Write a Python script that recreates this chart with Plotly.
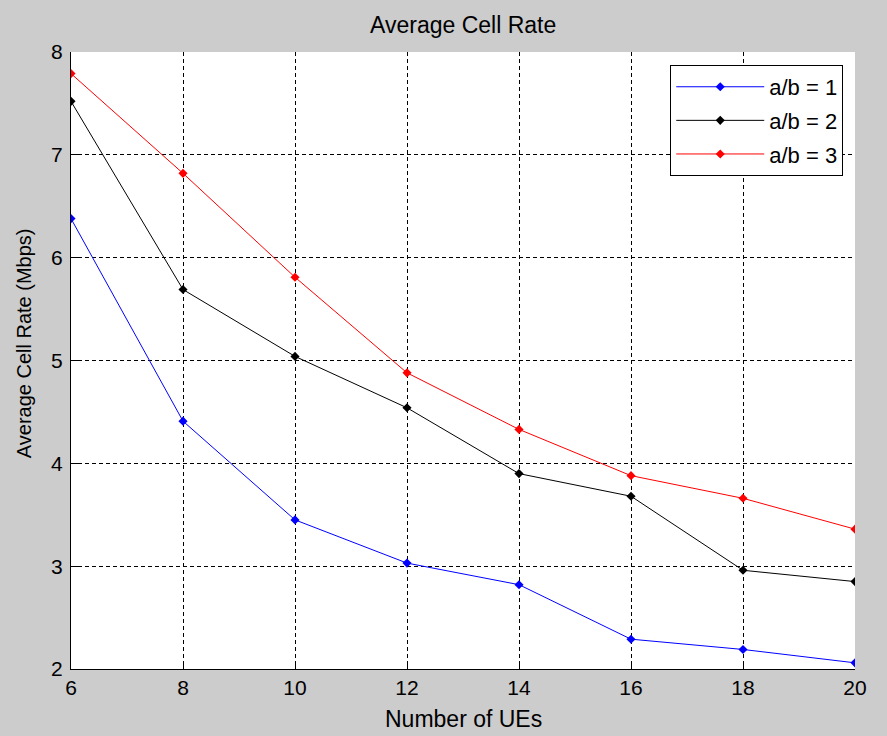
import plotly.graph_objects as go

ues = [6, 8, 10, 12, 14, 16, 18, 20]
rate_ab1 = [6.38, 4.41, 3.45, 3.03, 2.82, 2.29, 2.19, 2.06]
rate_ab2 = [7.52, 5.69, 5.04, 4.54, 3.90, 3.68, 2.96, 2.85]
rate_ab3 = [7.79, 6.82, 5.81, 4.88, 4.33, 3.88, 3.66, 3.36]
series_names = ["a/b = 1", "a/b = 2", "a/b = 3"]
series_colors = ["#0000ff", "#000000", "#ff0000"]
x_ticks = [6, 8, 10, 12, 14, 16, 18, 20]
y_ticks = [2, 3, 4, 5, 6, 7, 8]

FONT = "Liberation Sans, Arial, sans-serif"

fig = go.Figure()
for i, (name, vals, col) in enumerate(zip(series_names, [rate_ab1, rate_ab2, rate_ab3], series_colors)):
    fig.add_trace(go.Scatter(
        x=ues, y=vals, name=name, mode="lines+markers", legendgroup=f"g{i}",
        line=dict(color=col, width=1),
        marker=dict(color=col, size=7, symbol="diamond"),
    ))

axis_common = dict(
    ticks="inside", ticklen=8, tickwidth=1, tickcolor="black",
    showgrid=True, gridcolor="black", gridwidth=1, griddash="4px,3px",
    zeroline=False, showline=True, linecolor="black", linewidth=1,
    tickfont=dict(family=FONT, size=21, color="black"),
)

fig.update_layout(
    width=887, height=736,
    paper_bgcolor="#cccccc", plot_bgcolor="white",
    margin=dict(l=71, r=32, t=52, b=67),
    showlegend=True,
    xaxis=dict(range=[6, 20], tickvals=x_ticks, ticktext=[str(v) for v in x_ticks],
               **axis_common),
    yaxis=dict(range=[2, 8], tickvals=y_ticks, ticktext=[str(v) for v in y_ticks],
               ticklabelstandoff=3, **axis_common),
    xaxis2=dict(overlaying="x", side="top", anchor="y", range=[6, 20], tickvals=x_ticks,
                showticklabels=False, ticks="inside", ticklen=8, tickcolor="black",
                showgrid=False, zeroline=False, showline=False),
    yaxis2=dict(overlaying="y", side="right", anchor="x", range=[2, 8], tickvals=y_ticks,
                showticklabels=False, ticks="inside", ticklen=8, tickcolor="black",
                showgrid=False, zeroline=False, showline=False),
    legend=dict(x=0.985, y=0.979, xanchor="right", yanchor="top",
                bgcolor="white", bordercolor="black", borderwidth=1,
                font=dict(family=FONT, size=22, color="black"),
                itemwidth=88, tracegroupgap=2),
    annotations=[
        dict(text="Average Cell Rate", xref="paper", yref="paper", x=0.5, y=1,
             yshift=27, xanchor="center", yanchor="middle", showarrow=False,
             font=dict(family=FONT, size=23, color="black")),
        dict(text="Number of UEs", xref="paper", yref="paper", x=0.5, y=0,
             yshift=-50, xanchor="center", yanchor="middle", showarrow=False,
             font=dict(family=FONT, size=23, color="black")),
        dict(text="Average Cell Rate (Mbps)", xref="paper", yref="paper", x=0, y=0.528,
             xshift=-47, xanchor="center", yanchor="middle", showarrow=False, textangle=-90,
             font=dict(family=FONT, size=20, color="black")),
    ],
)

fig.write_html(
    "out.html",
    config={"displayModeBar": False},
    post_script="document.body.style.margin='0';document.body.style.background='#cccccc';",
)
